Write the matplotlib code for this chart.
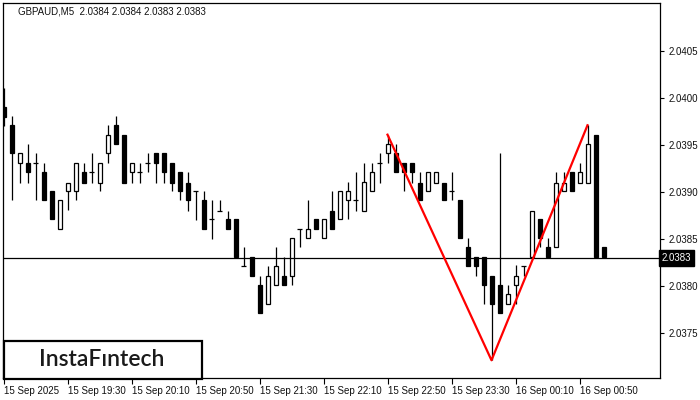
import matplotlib
matplotlib.use("Agg")
import matplotlib.pyplot as plt
import matplotlib.transforms as mtransforms
from matplotlib.patches import Rectangle

plt.rcParams['font.family'] = ['Liberation Sans', 'DejaVu Sans']

# ---- data (GBPAUD M5) ----
opens = [2.03990, 2.03971, 2.03931, 2.03931, 2.03931, 2.03921, 2.03901, 2.03861, 2.03901, 2.03901,
         2.03921, 2.03921, 2.03910, 2.03941, 2.03971, 2.03961, 2.03921, 2.03921, 2.03931, 2.03941,
         2.03941, 2.03931, 2.03921, 2.03910, 2.03901, 2.03891, 2.03871, 2.03880, 2.03871, 2.03871,
         2.03821, 2.03831, 2.03801, 2.03781, 2.03801, 2.03811, 2.03811, 2.03861, 2.03851, 2.03871,
         2.03851, 2.03880, 2.03871, 2.03891, 2.03891, 2.03880, 2.03901, 2.03931, 2.03941, 2.03941,
         2.03931, 2.03931, 2.03910, 2.03901, 2.03910, 2.03910, 2.03901, 2.03891, 2.03841, 2.03831,
         2.03831, 2.03811, 2.03801, 2.03781, 2.03801, 2.03821, 2.03831, 2.03871, 2.03841, 2.03841,
         2.03901, 2.03921, 2.03910, 2.03910, 2.03961, 2.03841]
highs = [2.04011, 2.03981, 2.03941, 2.03951, 2.03941, 2.03931, 2.03901, 2.03891, 2.03910, 2.03931,
         2.03931, 2.03941, 2.03931, 2.03971, 2.03981, 2.03961, 2.03931, 2.03931, 2.03941, 2.03941,
         2.03941, 2.03931, 2.03921, 2.03921, 2.03901, 2.03901, 2.03891, 2.03891, 2.03880, 2.03871,
         2.03842, 2.03831, 2.03811, 2.03821, 2.03842, 2.03831, 2.03851, 2.03861, 2.03891, 2.03871,
         2.03871, 2.03901, 2.03901, 2.03911, 2.03921, 2.03931, 2.03931, 2.03941, 2.03961, 2.03951,
         2.03931, 2.03931, 2.03921, 2.03921, 2.03921, 2.03910, 2.03921, 2.03891, 2.03851, 2.03831,
         2.03831, 2.03811, 2.03941, 2.03801, 2.03822, 2.03821, 2.03880, 2.03871, 2.03851, 2.03921,
         2.03921, 2.03921, 2.03931, 2.03971, 2.03961, 2.03841]
lows = [2.03970, 2.03891, 2.03910, 2.03910, 2.03891, 2.03891, 2.03871, 2.03861, 2.03881, 2.03891,
        2.03910, 2.03910, 2.03901, 2.03931, 2.03951, 2.03910, 2.03910, 2.03910, 2.03921, 2.03910,
        2.03910, 2.03901, 2.03891, 2.03880, 2.03870, 2.03861, 2.03850, 2.03880, 2.03861, 2.03831,
        2.03821, 2.03811, 2.03771, 2.03781, 2.03801, 2.03801, 2.03801, 2.03841, 2.03851, 2.03861,
        2.03851, 2.03861, 2.03871, 2.03871, 2.03880, 2.03880, 2.03901, 2.03910, 2.03931, 2.03921,
        2.03901, 2.03910, 2.03891, 2.03901, 2.03910, 2.03891, 2.03891, 2.03851, 2.03821, 2.03811,
        2.03781, 2.03721, 2.03771, 2.03781, 2.03781, 2.03811, 2.03831, 2.03842, 2.03831, 2.03841,
        2.03901, 2.03901, 2.03910, 2.03910, 2.03831, 2.03831]
closes = [2.03980, 2.03941, 2.03941, 2.03921, 2.03931, 2.03891, 2.03871, 2.03891, 2.03910, 2.03931,
          2.03910, 2.03921, 2.03931, 2.03961, 2.03951, 2.03910, 2.03931, 2.03921, 2.03931, 2.03931,
          2.03921, 2.03910, 2.03901, 2.03891, 2.03901, 2.03861, 2.03871, 2.03880, 2.03861, 2.03831,
          2.03821, 2.03811, 2.03771, 2.03811, 2.03821, 2.03801, 2.03851, 2.03861, 2.03861, 2.03861,
          2.03871, 2.03861, 2.03901, 2.03901, 2.03891, 2.03911, 2.03921, 2.03931, 2.03951, 2.03921,
          2.03921, 2.03921, 2.03891, 2.03921, 2.03921, 2.03891, 2.03901, 2.03851, 2.03821, 2.03821,
          2.03801, 2.03781, 2.03771, 2.03791, 2.03811, 2.03821, 2.03880, 2.03851, 2.03831, 2.03910,
          2.03910, 2.03901, 2.03921, 2.03951, 2.03831, 2.03831]

tick_labels = ["15 Sep 2025", "15 Sep 19:30", "15 Sep 20:10", "15 Sep 20:50", "15 Sep 21:30",
               "15 Sep 22:10", "15 Sep 22:50", "15 Sep 23:30", "16 Sep 00:10", "16 Sep 00:50"]
tick_every = 8
price_ticks = [2.0375, 2.0380, 2.0385, 2.0390, 2.0395, 2.0400, 2.0405]
current_price = 2.0383
pattern_idx = [48, 61, 73]
pattern_price = [2.03961, 2.03721, 2.03971]
title = "GBPAUD,M5  2.0384 2.0384 2.0383 2.0383"

# ---- figure ----
fig = plt.figure(figsize=(7, 4), dpi=100)
ax = fig.add_axes([2.7 / 700, 22 / 400, (660 - 2.7) / 700, 375 / 400])

n = len(opens)
bw = 0.5
for i in range(n):
    o, h, l, c = opens[i], highs[i], lows[i], closes[i]
    ax.vlines(i, l, h, color='black', linewidth=0.9, zorder=2)
    if abs(o - c) < 1e-7:
        ax.hlines(o, i - bw / 2 - 0.06, i + bw / 2 + 0.06, color='black', linewidth=0.9, zorder=3)
    else:
        fill = 'black' if c < o else 'white'
        ax.bar(i, abs(c - o), bottom=min(o, c), width=bw, color=fill,
               edgecolor='black', linewidth=0.9, zorder=3)

ax.plot(pattern_idx, pattern_price, color='#ff0000', linewidth=1.6, zorder=5)
ax.axhline(current_price, color='black', linewidth=0.9, zorder=4)

ax.set_xlim(-0.1, (660 - 3.5) / 8)
ax.set_ylim(2.0380 - 92 / 94000, 2.0380 + 283 / 94000)

fs = 7
ax.yaxis.tick_right()
ax.set_yticks(price_ticks)
ax.set_yticklabels([f"{p:.4f}" for p in price_ticks])
ax.tick_params(axis='y', length=3, pad=3, labelsize=fs, width=0.8, labelcolor='#111111')

xt = [k * tick_every for k in range(len(tick_labels))]
ax.set_xticks(xt)
ax.set_xticklabels(tick_labels)
for lab in ax.get_xticklabels():
    lab.set_horizontalalignment('left')
ax.tick_params(axis='x', length=4, pad=2, labelsize=fs, width=0.8, labelcolor='#111111')

for s in ax.spines.values():
    s.set_linewidth(0.9)
    s.set_color('black')

trans = mtransforms.blended_transform_factory(ax.transAxes, ax.transData)
ax.text(1.003, current_price, "2.0383", transform=trans, color='white', fontsize=fs,
        va='center', ha='left',
        bbox=dict(boxstyle='square,pad=0.3', facecolor='black', edgecolor='black'), zorder=10,
        clip_on=False)

fig.text(18 / 700, 1 - 11 / 400, title, fontsize=fs, ha='left', va='center', color='#111111')

# logo
fig.add_artist(Rectangle((3.5 / 700, 21.5 / 400), 198 / 700, 38 / 400, transform=fig.transFigure,
                         facecolor='white', edgecolor='black', linewidth=1.6, zorder=20))
fig.text(102 / 700, 1 - 359.5 / 400, "InstaFıntech", fontsize=16.5, ha='center', va='center',
         color='#1a1a1a', family=['Lato', 'DejaVu Sans'], fontweight='semibold', zorder=21)

fig.savefig("out.png", dpi=100)
